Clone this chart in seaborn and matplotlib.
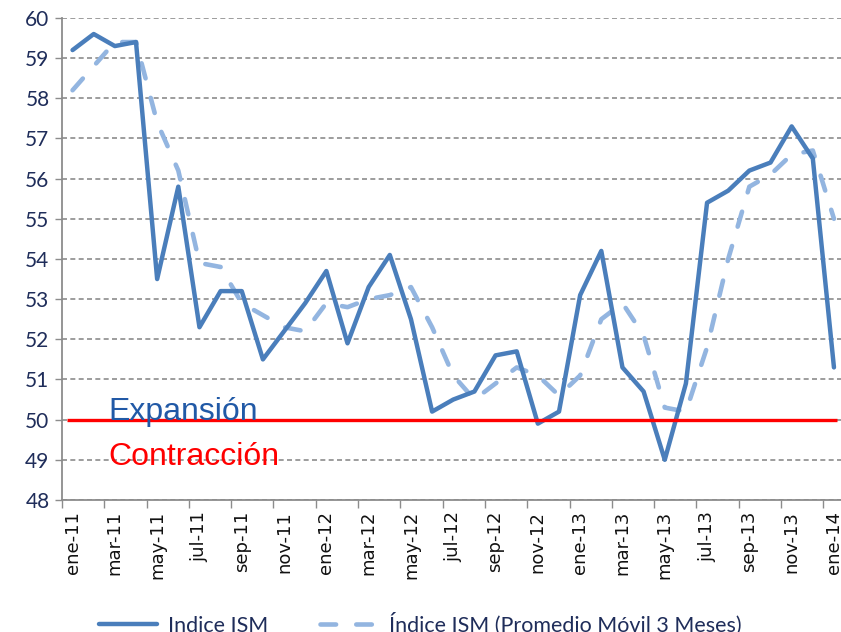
import pandas as pd
import matplotlib
matplotlib.use("Agg")
import matplotlib.pyplot as plt
import seaborn as sns

# -------------------------------
# Data
# -------------------------------
meses = ["ene-11", "feb-11", "mar-11", "abr-11", "may-11", "jun-11", "jul-11", "ago-11",
         "sep-11", "oct-11", "nov-11", "dic-11",
         "ene-12", "feb-12", "mar-12", "abr-12", "may-12", "jun-12", "jul-12", "ago-12",
         "sep-12", "oct-12", "nov-12", "dic-12",
         "ene-13", "feb-13", "mar-13", "abr-13", "may-13", "jun-13", "jul-13", "ago-13",
         "sep-13", "oct-13", "nov-13", "dic-13",
         "ene-14"]

indice_ism = [59.2, 59.6, 59.3, 59.4, 53.5, 55.8, 52.3, 53.2, 53.2, 51.5, 52.2, 52.9,
              53.7, 51.9, 53.3, 54.1, 52.5, 50.2, 50.5, 50.7, 51.6, 51.7, 49.9, 50.2,
              53.1, 54.2, 51.3, 50.7, 49.0, 50.9, 55.4, 55.7, 56.2, 56.4, 57.3, 56.5,
              51.3]

promedio_movil = [58.2, 58.8, 59.4, 59.4, 57.4, 56.2, 53.9, 53.8, 52.9, 52.6, 52.3, 52.2,
                  52.9, 52.8, 53.0, 53.1, 53.3, 52.3, 51.1, 50.5, 50.9, 51.3, 51.1, 50.6,
                  51.1, 52.5, 52.9, 52.1, 50.3, 50.2, 51.8, 54.0, 55.8, 56.1, 56.6, 56.7,
                  55.0]

umbral = 50

df = pd.DataFrame({"pos": range(len(meses)), "mes": meses,
                   "ism": indice_ism, "ma3": promedio_movil})

# -------------------------------
# Plot
# -------------------------------
sns.set_style("white")
plt.rcParams["font.family"] = ["DejaVu Sans"]
narrow = ["Lato", "DejaVu Sans"]

fig = plt.figure(figsize=(8.41, 6.32), dpi=100)
ax = fig.add_axes([0.0737, 0.2089, 0.9305, 0.7627])

sns.lineplot(data=df, x="pos", y="ism", ax=ax, color="#4A7EBB", linewidth=3.2,
             label="Indice ISM", zorder=4)
sns.lineplot(data=df, x="pos", y="ma3", ax=ax, color="#93B5E0", linewidth=3.3,
             linestyle=(0, (3.4, 4.4)), dash_capstyle="round",
             label="Índice ISM (Promedio Móvil 3 Meses)", zorder=3)

# threshold line
ax.hlines(umbral, -0.25, len(meses) - 0.85, color="#FF0000", linewidth=2.4, zorder=5)
ax.text(1.68, 50.0, "Expansión", color="#2159A6", fontsize=23,
        family="Liberation Sans", va="baseline", zorder=6)
ax.text(1.68, 48.88, "Contracción", color="#FF0000", fontsize=23,
        family="Liberation Sans", va="baseline", zorder=6)

ax.set_xlim(-0.5, len(meses) - 0.5)
ax.set_ylim(48, 60)

# y axis
ax.set_yticks(range(48, 61))
ax.tick_params(axis="y", which="major", length=5, width=1, color="#8C8C8C",
               labelsize=15, labelcolor="#1F2D5A", left=True, pad=4)
for lbl in ax.get_yticklabels():
    lbl.set_family(narrow)
ax.yaxis.grid(True, color="#8C8C8C", linestyle=(0, (3, 2)), linewidth=1.2)
ax.set_axisbelow(True)

# x axis: labels every 2 months, ticks between categories
ax.set_xticks(df["pos"][::2])
ax.set_xticklabels(df["mes"][::2], rotation=90, fontsize=13, color="#111111")
ax.set_xticks([p - 0.5 for p in df["pos"][::2]], minor=True)
ax.tick_params(axis="x", which="major", length=0, pad=8)
ax.tick_params(axis="x", which="minor", length=6, width=1, color="#8C8C8C", bottom=True)

ax.set_xlabel("")
ax.set_ylabel("")
for side in ["top", "right"]:
    ax.spines[side].set_visible(False)
for side in ["left", "bottom"]:
    ax.spines[side].set_color("#8C8C8C")
    ax.spines[side].set_linewidth(1.3)

leg = ax.legend(loc="center", ncol=2, frameon=False, handlelength=2.7,
                handletextpad=0.5, columnspacing=2.4,
                prop={"family": narrow, "size": 15.5})
leg.set_bbox_to_anchor((0.5, 0.012), transform=fig.transFigure)
for t in leg.get_texts():
    t.set_color("#1F2D5A")

fig.savefig("out.png", dpi=100)
